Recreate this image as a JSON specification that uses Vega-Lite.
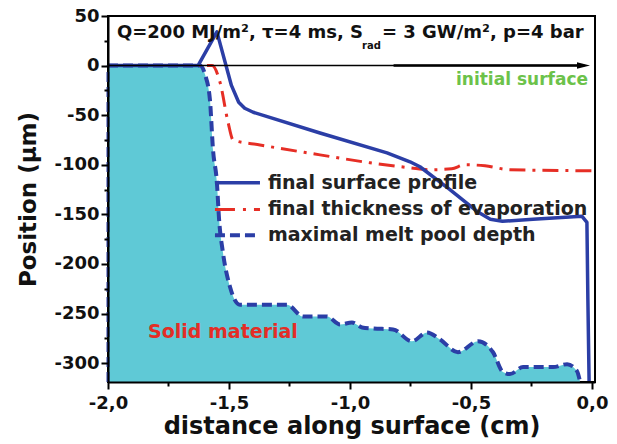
{
  "$schema": "https://vega.github.io/schema/vega-lite/v6.json",
  "width": 487,
  "height": 366,
  "autosize": {"type": "none"},
  "padding": {"left": 108, "top": 16, "right": 22, "bottom": 62},
  "background": "white",
  "config": {"view": {"stroke": "black", "strokeWidth": 2}, "font": "DejaVu Sans"},
  "datasets": {
    "lines": [
      {"s": "surface", "i": 0, "x": -2.0, "y": 0},
      {"s": "surface", "i": 1, "x": -1.628, "y": 0},
      {"s": "surface", "i": 2, "x": -1.55, "y": 34},
      {"s": "surface", "i": 3, "x": -1.49, "y": -20},
      {"s": "surface", "i": 4, "x": -1.46, "y": -37},
      {"s": "surface", "i": 5, "x": -1.435, "y": -43},
      {"s": "surface", "i": 6, "x": -1.40, "y": -47},
      {"s": "surface", "i": 7, "x": -1.124, "y": -68},
      {"s": "surface", "i": 8, "x": -0.847, "y": -88},
      {"s": "surface", "i": 9, "x": -0.752, "y": -97},
      {"s": "surface", "i": 10, "x": -0.711, "y": -102},
      {"s": "surface", "i": 11, "x": -0.587, "y": -125},
      {"s": "surface", "i": 12, "x": -0.475, "y": -147},
      {"s": "surface", "i": 13, "x": -0.42, "y": -155},
      {"s": "surface", "i": 14, "x": -0.37, "y": -157},
      {"s": "surface", "i": 15, "x": -0.244, "y": -155},
      {"s": "surface", "i": 16, "x": -0.041, "y": -152},
      {"s": "surface", "i": 17, "x": -0.021, "y": -158},
      {"s": "surface", "i": 18, "x": -0.017, "y": -236},
      {"s": "surface", "i": 19, "x": -0.012, "y": -318},
      {"s": "evap", "i": 0, "x": -2.0, "y": 0},
      {"s": "evap", "i": 1, "x": -1.57, "y": 0},
      {"s": "evap", "i": 2, "x": -1.537, "y": -17},
      {"s": "evap", "i": 3, "x": -1.504, "y": -57},
      {"s": "evap", "i": 4, "x": -1.483, "y": -75},
      {"s": "evap", "i": 5, "x": -1.372, "y": -80},
      {"s": "evap", "i": 6, "x": -1.124, "y": -90},
      {"s": "evap", "i": 7, "x": -0.917, "y": -98},
      {"s": "evap", "i": 8, "x": -0.752, "y": -103},
      {"s": "evap", "i": 9, "x": -0.669, "y": -105},
      {"s": "evap", "i": 10, "x": -0.58, "y": -104},
      {"s": "evap", "i": 11, "x": -0.525, "y": -100},
      {"s": "evap", "i": 12, "x": -0.442, "y": -101},
      {"s": "evap", "i": 13, "x": -0.339, "y": -105},
      {"s": "evap", "i": 14, "x": 0.0, "y": -106},
      {"s": "melt", "i": 1, "x": -2.0, "y": 0},
      {"s": "melt", "i": 2, "x": -1.62, "y": 0},
      {"s": "melt", "i": 3, "x": -1.599, "y": -9},
      {"s": "melt", "i": 4, "x": -1.579, "y": -34},
      {"s": "melt", "i": 5, "x": -1.566, "y": -85},
      {"s": "melt", "i": 6, "x": -1.55, "y": -118},
      {"s": "melt", "i": 7, "x": -1.541, "y": -155},
      {"s": "melt", "i": 8, "x": -1.525, "y": -188.5},
      {"s": "melt", "i": 9, "x": -1.496, "y": -223},
      {"s": "melt", "i": 10, "x": -1.455, "y": -241},
      {"s": "melt", "i": 11, "x": -1.26, "y": -241},
      {"s": "melt", "i": 12, "x": -1.194, "y": -253},
      {"s": "melt", "i": 13, "x": -1.095, "y": -253},
      {"s": "melt", "i": 14, "x": -1.041, "y": -261},
      {"s": "melt", "i": 15, "x": -0.992, "y": -259},
      {"s": "melt", "i": 16, "x": -0.95, "y": -264},
      {"s": "melt", "i": 17, "x": -0.905, "y": -265},
      {"s": "melt", "i": 18, "x": -0.822, "y": -266},
      {"s": "melt", "i": 19, "x": -0.744, "y": -278},
      {"s": "melt", "i": 20, "x": -0.682, "y": -269},
      {"s": "melt", "i": 21, "x": -0.628, "y": -276},
      {"s": "melt", "i": 22, "x": -0.554, "y": -289},
      {"s": "melt", "i": 23, "x": -0.471, "y": -278},
      {"s": "melt", "i": 24, "x": -0.409, "y": -289},
      {"s": "melt", "i": 25, "x": -0.368, "y": -309},
      {"s": "melt", "i": 26, "x": -0.339, "y": -311},
      {"s": "melt", "i": 27, "x": -0.285, "y": -304},
      {"s": "melt", "i": 28, "x": -0.161, "y": -304},
      {"s": "melt", "i": 29, "x": -0.103, "y": -301},
      {"s": "melt", "i": 30, "x": -0.062, "y": -308},
      {"s": "melt", "i": 31, "x": -0.05, "y": -318}
    ]
  },
  "encoding": {
    "x": {
      "field": "x", "type": "quantitative",
      "scale": {"domain": [-2, 0.0124], "nice": false, "zero": false},
      "axis": {
        "title": "distance along surface (cm)",
        "values": [-2, -1.75, -1.5, -1.25, -1, -0.75, -0.5, -0.25, 0],
        "labelExpr": "abs(datum.value*2 - round(datum.value*2)) < 0.001 ? (datum.value < -0.0001 ? '-' : '') + replace(format(abs(datum.value), '.1f'), '.', ',') : ''",
        "tickSize": {"condition": {"test": "abs(datum.value*2 - round(datum.value*2)) < 0.001", "value": 7}, "value": 4},
        "tickWidth": 2, "tickColor": "black", "domainColor": "black", "domainWidth": 2,
        "labelFont": "DejaVu Sans", "labelFontWeight": "bold", "labelFontSize": 18, "labelColor": "#111",
        "labelPadding": 5, "labelOverlap": false, "labelFlush": false,
        "titleFont": "DejaVu Sans", "titleFontWeight": "bold", "titleFontSize": 24, "titleColor": "#111",
        "titlePadding": 2, "grid": false, "zindex": 1
      }
    },
    "y": {
      "field": "y", "type": "quantitative",
      "scale": {"domain": [-319, 50], "nice": false, "zero": false},
      "axis": {
        "title": "Position (µm)",
        "values": [-300, -275, -250, -225, -200, -175, -150, -125, -100, -75, -50, -25, 0, 25, 50],
        "labelExpr": "datum.value % 50 == 0 ? (datum.value < 0 ? '-' : '') + format(abs(datum.value), 'd') : ''",
        "tickSize": {"condition": {"test": "datum.value % 50 == 0", "value": 7}, "value": 4},
        "tickWidth": 2, "tickColor": "black", "domainColor": "black", "domainWidth": 2,
        "labelFont": "DejaVu Sans", "labelFontWeight": "bold", "labelFontSize": 18, "labelColor": "#111",
        "labelPadding": 2, "labelOverlap": false,
        "titleFont": "DejaVu Sans", "titleFontWeight": "bold", "titleFontSize": 23, "titleColor": "#111",
        "titlePadding": 13, "grid": false, "zindex": 1
      }
    }
  },
  "layer": [
    {
      "data": {"name": "lines"},
      "transform": [{"filter": "datum.s == 'melt'"}],
      "mark": {"type": "area", "color": "#5fc9d6", "opacity": 1, "interpolate": "monotone"},
      "encoding": {"y2": {"datum": -319}}
    },
    {
      "data": {"name": "lines"},
      "transform": [{"filter": "datum.s == 'melt'"}],
      "mark": {"type": "line", "color": "#2b3ea6", "strokeWidth": 4, "strokeDash": [10, 5], "strokeCap": "butt", "interpolate": "monotone"},
      "encoding": {"order": {"field": "i", "type": "quantitative"}}
    },
    {
      "data": {"values": [{"x": -2, "y": -319, "y2": 0}]},
      "mark": {"type": "rule", "color": "#2b3ea6", "strokeWidth": 3, "strokeDash": [10, 5]},
      "encoding": {"y2": {"field": "y2"}}
    },
    {
      "data": {"name": "lines"},
      "transform": [{"filter": "datum.s == 'evap'"}],
      "mark": {"type": "line", "color": "#e62e25", "strokeWidth": 3, "strokeDash": [16, 7, 3, 7], "interpolate": "monotone"},
      "encoding": {"order": {"field": "i", "type": "quantitative"}}
    },
    {
      "data": {"name": "lines"},
      "transform": [{"filter": "datum.s == 'surface'"}],
      "mark": {"type": "line", "color": "#2b3ea6", "strokeWidth": 3.5, "strokeJoin": "round"},
      "encoding": {"order": {"field": "i", "type": "quantitative"}}
    },
    {
      "data": {"values": [{"x": -2, "x2": -0.03, "y": 0}]},
      "mark": {"type": "rule", "color": "black", "strokeWidth": 1.5},
      "encoding": {"x2": {"field": "x2"}}
    },
    {
      "data": {"values": [{"x": -0.82, "x2": -0.04, "y": 0}]},
      "mark": {"type": "rule", "color": "black", "strokeWidth": 2.5},
      "encoding": {"x2": {"field": "x2"}}
    },
    {
      "data": {"values": [{"x": -0.035, "y": 0}]},
      "mark": {"type": "point", "shape": "M-1,-0.5L1,0L-1,0.5Z", "size": 169, "filled": true, "color": "black", "opacity": 1}
    },
    {
      "data": {"values": [{"x": -1.558, "x2": -1.372, "y": -118}]},
      "mark": {"type": "rule", "color": "#2b3ea6", "strokeWidth": 3.5},
      "encoding": {"x2": {"field": "x2"}}
    },
    {
      "data": {"values": [{"x": -1.558, "x2": -1.372, "y": -145}]},
      "mark": {"type": "rule", "color": "#e62e25", "strokeWidth": 3, "strokeDash": [20, 8, 3, 8]},
      "encoding": {"x2": {"field": "x2"}}
    },
    {
      "data": {"values": [{"x": -1.558, "x2": -1.372, "y": -171}]},
      "mark": {"type": "rule", "color": "#2b3ea6", "strokeWidth": 4, "strokeDash": [10, 5], "strokeCap": "butt"},
      "encoding": {"x2": {"field": "x2"}}
    },
    {
      "data": {"values": [
        {"x": -1.339, "y": -118, "t": "final surface profile"},
        {"x": -1.339, "y": -145, "t": "final thickness of evaporation"},
        {"x": -1.339, "y": -171, "t": "maximal melt pool depth"}
      ]},
      "mark": {"type": "text", "align": "left", "baseline": "middle", "font": "DejaVu Sans", "fontWeight": "bold", "fontSize": 19, "color": "#222"},
      "encoding": {"text": {"field": "t"}}
    },
    {
      "data": {"values": [{"x": -1.963, "y": 33, "t": "Q=200 MJ/m², τ=4 ms, S"}, {"x": -0.868, "y": 33, "t": "= 3 GW/m², p=4 bar"}]},
      "mark": {"type": "text", "align": "left", "baseline": "middle", "font": "DejaVu Sans", "fontWeight": "bold", "fontSize": 18, "color": "#111"},
      "encoding": {"text": {"field": "t"}}
    },
    {
      "data": {"values": [{"x": -0.95, "y": 20, "t": "rad"}]},
      "mark": {"type": "text", "align": "left", "baseline": "middle", "font": "DejaVu Sans", "fontWeight": "bold", "fontSize": 10, "color": "#111"},
      "encoding": {"text": {"field": "t"}}
    },
    {
      "data": {"values": [{"x": -0.0165, "y": -15, "t": "initial surface"}]},
      "mark": {"type": "text", "align": "right", "baseline": "middle", "font": "DejaVu Sans", "fontWeight": "bold", "fontSize": 17, "color": "#6cc24a"},
      "encoding": {"text": {"field": "t"}}
    },
    {
      "data": {"values": [{"x": -1.525, "y": -269, "t": "Solid material"}]},
      "mark": {"type": "text", "align": "center", "baseline": "middle", "font": "DejaVu Sans", "fontWeight": "bold", "fontSize": 19, "color": "#e32d26"},
      "encoding": {"text": {"field": "t"}}
    }
  ]
}
